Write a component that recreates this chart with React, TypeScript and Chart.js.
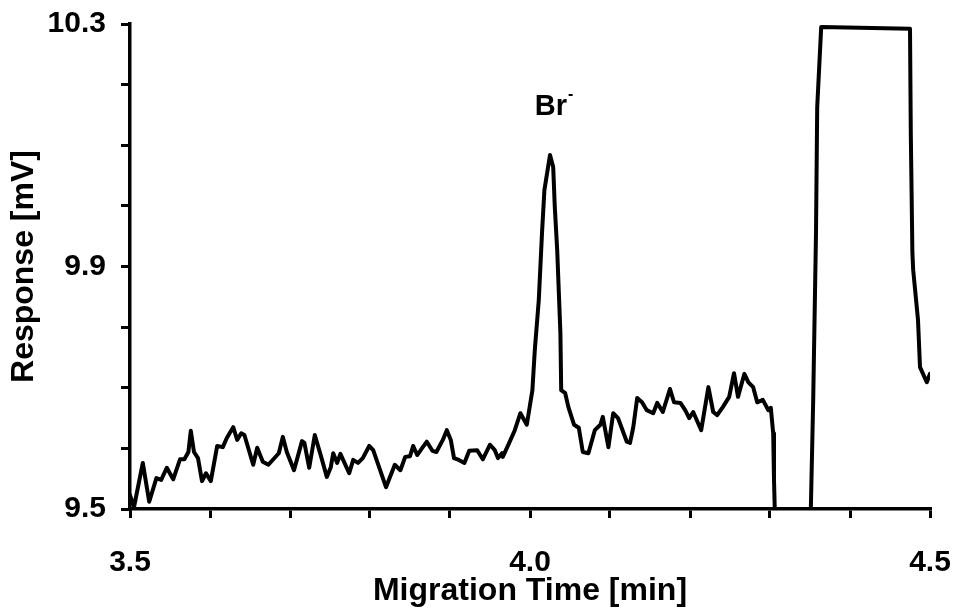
import React, { useEffect, useRef } from "react";
import { Chart, registerables } from "chart.js";

Chart.register(...registerables);

// Migration time [min]
const timeMin: number[] = [
  3.5, 3.505, 3.516, 3.524, 3.533, 3.539, 3.546, 3.554, 3.5625, 3.568,
  3.573, 3.576, 3.58, 3.585, 3.59, 3.595, 3.601, 3.609, 3.616, 3.621,
  3.629, 3.634, 3.639, 3.643, 3.654, 3.659, 3.666, 3.673, 3.686, 3.691,
  3.696, 3.705, 3.715, 3.718, 3.724, 3.731, 3.739, 3.746, 3.751, 3.754,
  3.759, 3.763, 3.774, 3.779, 3.785, 3.791, 3.799, 3.804, 3.82, 3.831,
  3.838, 3.844, 3.85, 3.854, 3.859, 3.866, 3.871, 3.878, 3.883, 3.891,
  3.896, 3.901, 3.905, 3.911, 3.918, 3.924, 3.934, 3.941, 3.95, 3.956,
  3.96, 3.965, 3.966, 3.974, 3.981, 3.988, 3.996, 4.003, 4.006, 4.011,
  4.015, 4.018, 4.025, 4.029, 4.031, 4.034, 4.038, 4.039, 4.044, 4.048,
  4.055, 4.061, 4.066, 4.073, 4.081, 4.088, 4.091, 4.098, 4.104, 4.11,
  4.121, 4.125, 4.129, 4.134, 4.14, 4.146, 4.154, 4.159, 4.166, 4.175,
  4.18, 4.188, 4.194, 4.199, 4.204, 4.214, 4.223, 4.229, 4.234, 4.241,
  4.249, 4.255, 4.26, 4.268, 4.273, 4.279, 4.284, 4.291, 4.298, 4.301,
  4.304, 4.305, 4.306, 4.31, 4.348, 4.351, 4.354, 4.3575, 4.359, 4.364,
  4.475, 4.476, 4.478, 4.479, 4.485, 4.4875, 4.496, 4.5,
];

// Response [mV]
const responseMV: number[] = [
  9.523, 9.503, 9.576, 9.512, 9.551, 9.548, 9.568, 9.549, 9.582, 9.582,
  9.594, 9.629, 9.594, 9.584, 9.546, 9.559, 9.546, 9.604, 9.602, 9.617,
  9.635, 9.614, 9.625, 9.622, 9.573, 9.601, 9.578, 9.573, 9.592, 9.619,
  9.594, 9.564, 9.612, 9.609, 9.568, 9.622, 9.586, 9.553, 9.569, 9.592,
  9.576, 9.591, 9.559, 9.581, 9.576, 9.584, 9.604, 9.597, 9.536, 9.573,
  9.564, 9.586, 9.587, 9.604, 9.589, 9.602, 9.611, 9.596, 9.594, 9.614,
  9.63, 9.614, 9.584, 9.581, 9.576, 9.596, 9.597, 9.582, 9.606, 9.597,
  9.584, 9.592, 9.586, 9.609, 9.63, 9.658, 9.639, 9.696, 9.762, 9.845,
  9.955, 10.026, 10.084, 10.064, 9.998, 9.927, 9.79, 9.696, 9.691, 9.668,
  9.639, 9.634, 9.594, 9.592, 9.63, 9.639, 9.652, 9.602, 9.658, 9.65,
  9.611, 9.609, 9.634, 9.683, 9.676, 9.663, 9.658, 9.675, 9.66, 9.698,
  9.676, 9.675, 9.663, 9.65, 9.66, 9.63, 9.701, 9.66, 9.655, 9.668,
  9.685, 9.724, 9.685, 9.723, 9.709, 9.701, 9.676, 9.68, 9.663, 9.667,
  9.625, 9.548, 9.498, 9.4, 9.4, 9.498, 9.68, 9.955, 10.163, 10.295,
  10.292, 10.12, 9.922, 9.894, 9.812, 9.734, 9.709, 9.723,
];

const xTickLabels: number[] = [3.5, 4.0, 4.5];
const yTickLabels: number[] = [9.5, 9.9, 10.3];

const xTitle = "Migration Time [min]";
const yTitle = "Response [mV]";

const peakLabel = "Br";
const peakCharge = "-";
const peakLabelTime = 4.006;
const peakLabelMV = 10.15;

const FONT = "'Liberation Sans', Arial, Helvetica, sans-serif";

const labelPlugin = {
  id: "peakLabel",
  afterDraw(chart: any) {
    const { ctx, scales } = chart;
    const x = scales.x.getPixelForValue(peakLabelTime);
    const y = scales.y.getPixelForValue(peakLabelMV);
    ctx.save();
    ctx.fillStyle = "#000";
    ctx.textBaseline = "alphabetic";
    ctx.textAlign = "left";
    ctx.font = `bold 29px ${FONT}`;
    ctx.fillText(peakLabel, x, y);
    const w = ctx.measureText(peakLabel).width;
    ctx.font = `bold 16px ${FONT}`;
    ctx.fillText(peakCharge, x + w + 1, y - 16);
    ctx.restore();
  },
};

const zeroPad = (s: any) => {
  s.paddingLeft = 0;
  s.paddingRight = 0;
  s.paddingTop = 0;
  s.paddingBottom = 0;
};

export default function App() {
  const ref = useRef<HTMLCanvasElement | null>(null);

  useEffect(() => {
    if (!ref.current) return;
    const data = timeMin.map((t, i) => ({ x: t, y: responseMV[i] }));
    const near = (v: number, list: number[]) =>
      list.some((l) => Math.abs(l - v) < 1e-6);

    const chart = new Chart(ref.current, {
      type: "line",
      data: {
        datasets: [
          {
            data,
            borderColor: "#000",
            borderWidth: 4,
            pointRadius: 0,
            tension: 0,
            fill: false,
            borderJoinStyle: "round",
            borderCapStyle: "round",
          },
        ],
      },
      options: {
        animation: false,
        responsive: false,
        events: [],
        layout: { padding: { left: 0, top: 24, right: 23, bottom: 0 } },
        plugins: { legend: { display: false }, tooltip: { enabled: false } },
        scales: {
          x: {
            type: "linear",
            min: 3.5,
            max: 4.5,
            afterFit: (s: any) => {
              s.height = 106;
              zeroPad(s);
            },
            ticks: {
              stepSize: 0.1,
              autoSkip: false,
              maxRotation: 0,
              padding: 27,
              color: "#000",
              font: { family: FONT, size: 30, weight: "bold" },
              callback: (v: any) =>
                near(Number(v), xTickLabels) ? Number(v).toFixed(1) : "",
            },
            grid: {
              drawOnChartArea: false,
              drawTicks: true,
              tickLength: 9,
              tickWidth: 3,
              tickColor: "#000",
              lineWidth: 3,
            },
            border: { display: true, width: 3.5, color: "#000" },
            title: {
              display: true,
              text: xTitle,
              color: "#000",
              font: { family: FONT, size: 32, weight: "bold", lineHeight: 1 },
              padding: { top: 0, bottom: 8 },
            },
          },
          y: {
            type: "linear",
            min: 9.5,
            max: 10.3,
            afterFit: (s: any) => {
              s.width = 130;
              zeroPad(s);
            },
            ticks: {
              stepSize: 0.1,
              autoSkip: false,
              padding: 15,
              color: "#000",
              font: { family: FONT, size: 30, weight: "bold" },
              callback: (v: any) =>
                near(Number(v), yTickLabels) ? Number(v).toFixed(1) : "",
            },
            grid: {
              drawOnChartArea: false,
              drawTicks: true,
              tickLength: 9,
              tickWidth: 3,
              tickColor: "#000",
              lineWidth: 3,
            },
            border: { display: true, width: 3.5, color: "#000" },
            title: {
              display: true,
              text: yTitle,
              color: "#000",
              font: { family: FONT, size: 32, weight: "bold", lineHeight: 1 },
              padding: { top: 8, bottom: 0 },
            },
          },
        },
      },
      plugins: [labelPlugin],
    } as any);

    return () => chart.destroy();
  }, []);

  return (
    <div style={{ position: "absolute", left: 0, top: 0, width: 953, height: 615, background: "#fff" }}>
      <canvas ref={ref} width={953} height={615} />
    </div>
  );
}
